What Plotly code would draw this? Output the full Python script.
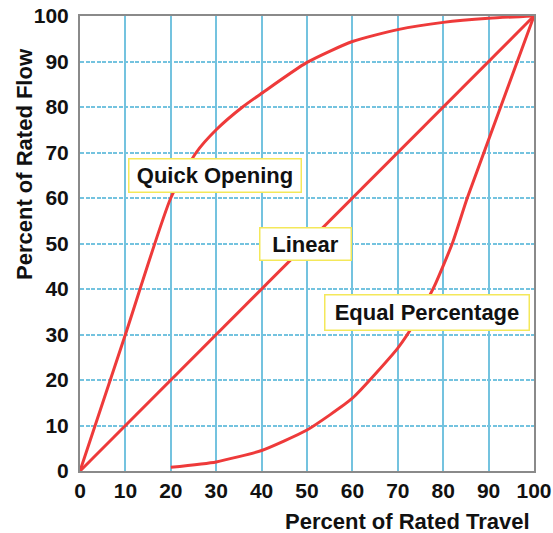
import plotly.graph_objects as go

# Data
travel_ticks = [0, 10, 20, 30, 40, 50, 60, 70, 80, 90, 100]
flow_ticks = [0, 10, 20, 30, 40, 50, 60, 70, 80, 90, 100]

quick_x = [0, 10, 20, 25.6, 30, 35.8, 40, 50, 60, 70, 80, 90, 100]
quick_y = [0, 30, 60, 70, 75, 80, 83, 89.8, 94.4, 97, 98.6, 99.5, 100]

linear_x = [0, 100]
linear_y = [0, 100]

equal_x = [20, 30, 40, 50, 60, 70, 74, 78, 82, 85.3, 100]
equal_y = [0.8, 2, 4.5, 9, 16, 27, 33, 40.5, 50, 60, 100]

labels = ["Quick Opening", "Linear", "Equal Percentage"]
label_x = [29.7, 49.7, 76.4]
label_y = [64.9, 49.9, 34.8]
label_w = [165, 84, 197]
label_h = [26, 25, 28]

RED = "#ee3a3a"
GRID = "#74c3df"
FONT = "Liberation Sans, Arial, sans-serif"

W, H = 553, 533
ml, mr, mt, mb = 80, 19, 16, 62
pw, ph = W - ml - mr, H - mt - mb

fig = go.Figure()
fig.add_trace(go.Scatter(x=quick_x, y=quick_y, mode="lines",
                         line=dict(color=RED, width=3, shape="spline", smoothing=0.6),
                         showlegend=False, hoverinfo="skip"))
fig.add_trace(go.Scatter(x=linear_x, y=linear_y, mode="lines",
                         line=dict(color=RED, width=3),
                         showlegend=False, hoverinfo="skip"))
fig.add_trace(go.Scatter(x=equal_x, y=equal_y, mode="lines",
                         line=dict(color=RED, width=3, shape="spline", smoothing=0.5),
                         showlegend=False, hoverinfo="skip"))

for t, x, y, w, h in zip(labels, label_x, label_y, label_w, label_h):
    fig.add_annotation(x=x, y=y, xref="x", yref="y", text=t, showarrow=False,
                       font=dict(family=FONT, size=22, color="#111111", weight="bold"),
                       bgcolor="white", bordercolor="#f4e85a", borderwidth=1.5,
                       borderpad=3, width=w, height=h, align="center", valign="middle")

fig.add_annotation(x=(407 - ml) / pw, y=(H - mb - 521) / ph, xref="paper", yref="paper",
                   text="Percent of Rated Travel", showarrow=False,
                   xanchor="center", yanchor="middle", height=22, borderpad=0,
                   font=dict(family=FONT, size=22, color="#111111", weight="bold"))
fig.add_annotation(x=(25 - ml) / pw, y=(H - mb - 164) / ph, xref="paper", yref="paper",
                   text="Percent of Rated Flow", showarrow=False, textangle=-90,
                   xanchor="center", yanchor="middle",
                   font=dict(family=FONT, size=22, color="#111111", weight="bold"))

fig.update_xaxes(range=[0, 100], tickvals=travel_ticks, ticktext=[str(v) for v in travel_ticks],
                 showgrid=True, gridcolor=GRID, gridwidth=1.5,
                 showline=True, linecolor="#8a8a8a", linewidth=2, mirror=True,
                 zeroline=False, ticks="", ticklabelstandoff=0, automargin=False,
                 tickfont=dict(family=FONT, size=21, color="#111111", weight="bold"))
fig.update_yaxes(range=[0, 100], tickvals=flow_ticks, ticktext=[str(v) for v in flow_ticks],
                 showgrid=True, gridcolor=GRID, gridwidth=1.5, griddash="4px,1.5px",
                 showline=True, linecolor="#8a8a8a", linewidth=2, mirror=True,
                 zeroline=False, ticks="", ticklabelstandoff=5, automargin=False,
                 tickfont=dict(family=FONT, size=21, color="#111111", weight="bold"))

fig.update_layout(width=W, height=H,
                  margin=dict(l=ml, r=mr, t=mt, b=mb, autoexpand=False),
                  plot_bgcolor="white", paper_bgcolor="white")

fig.write_html("out.html", config={"displayModeBar": False},
               post_script="document.body.style.margin='0';document.body.style.overflow='hidden';")
